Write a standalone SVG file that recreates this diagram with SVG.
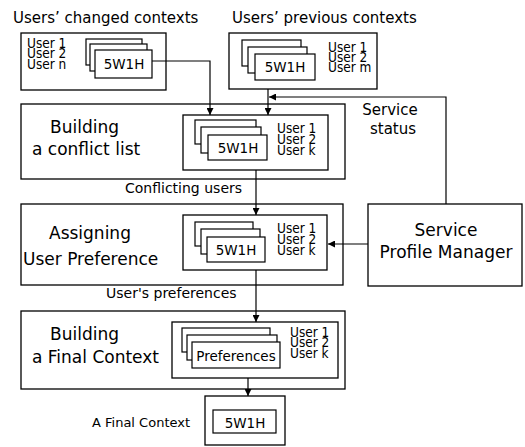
<svg xmlns="http://www.w3.org/2000/svg" width="525" height="447" viewBox="0 0 525 447">
<style>
text{font-family:"DejaVu Sans","Liberation Sans",sans-serif;fill:#000}
.box{fill:#fff;stroke:#000;stroke-width:1.3}
.card{fill:#fff;stroke:#000;stroke-width:1.2}
.big{font-size:17px}
.mid{font-size:15px}
.lab{font-size:14px}
.u{font-family:"DejaVu Sans Condensed","DejaVu Sans",sans-serif;font-stretch:condensed;font-size:13.5px}
.c{font-size:13.5px;text-anchor:middle}
.ln{fill:none;stroke:#000;stroke-width:1.2}
</style>
<defs>
<marker id="ah" viewBox="0 0 8 8" refX="8" refY="4" markerWidth="7" markerHeight="7" markerUnits="userSpaceOnUse" orient="auto">
<path d="M0,0 L8,4 L0,8 z" fill="#000"/>
</marker>
</defs>

<g id="changed-contexts">
<text class="mid" x="13" y="23">Users’ changed contexts</text>
<rect class="box" x="21" y="33" width="145" height="57"/>
<text class="u" x="27" y="48">User 1</text>
<text class="u" x="27" y="58">User 2</text>
<text class="u" x="27" y="69">User n</text>
<rect class="card" x="86" y="39" width="56" height="26"/>
<rect class="card" x="90" y="44" width="57" height="27"/>
<rect class="card" x="95" y="50" width="57" height="28"/>
<text class="c" x="124" y="69">5W1H</text>
</g>

<g id="previous-contexts">
<text class="mid" x="232" y="23">Users’ previous contexts</text>
<rect class="box" x="229" y="33" width="148" height="56"/>
<rect class="card" x="242" y="40" width="59" height="26"/>
<rect class="card" x="248" y="47" width="59" height="26"/>
<rect class="card" x="255" y="54" width="60" height="26"/>
<text class="c" x="285" y="72">5W1H</text>
<text class="u" x="328" y="52">User 1</text>
<text class="u" x="328" y="62">User 2</text>
<text class="u" x="328" y="72">User m</text>
</g>

<g id="conflict-list">
<rect class="box" x="21" y="104" width="324" height="75"/>
<text class="big" x="50" y="133">Building</text>
<text class="big" x="32" y="155">a conflict list</text>
<rect class="box" x="183" y="115" width="145" height="55"/>
<rect class="card" x="195" y="120" width="61" height="24"/>
<rect class="card" x="201" y="127" width="60" height="26"/>
<rect class="card" x="208" y="135" width="59" height="25"/>
<text class="c" x="238" y="153">5W1H</text>
<text class="u" x="277" y="133">User 1</text>
<text class="u" x="277" y="144">User 2</text>
<text class="u" x="277" y="155">User k</text>
</g>

<g id="assigning-preference">
<rect class="box" x="21" y="204" width="322" height="81"/>
<text class="big" x="49" y="239">Assigning</text>
<text class="big" x="23" y="265">User Preference</text>
<rect class="box" x="183" y="215" width="144" height="55"/>
<rect class="card" x="195" y="222" width="58" height="24"/>
<rect class="card" x="201" y="229" width="59" height="25"/>
<rect class="card" x="207" y="237" width="58" height="25"/>
<text class="c" x="236" y="255">5W1H</text>
<text class="u" x="277" y="233">User 1</text>
<text class="u" x="277" y="244">User 2</text>
<text class="u" x="277" y="255">User k</text>
</g>

<g id="final-context-builder">
<rect class="box" x="21" y="311" width="324" height="78"/>
<text class="big" x="50" y="340">Building</text>
<text class="big" x="32" y="363">a Final Context</text>
<rect class="box" x="172" y="322" width="166" height="56"/>
<rect class="card" x="182" y="328" width="88" height="24"/>
<rect class="card" x="187" y="335" width="90" height="25"/>
<rect class="card" x="192" y="342" width="88" height="26"/>
<text class="c" x="236" y="361">Preferences</text>
<text class="u" x="290" y="337">User 1</text>
<text class="u" x="290" y="347">User 2</text>
<text class="u" x="290" y="358">User k</text>
</g>

<g id="final-context">
<text class="lab" x="92" y="427" style="font-size:13px">A Final Context</text>
<rect class="box" x="205" y="396" width="80" height="49"/>
<rect class="card" x="213" y="410" width="63" height="23"/>
<text class="c" x="245" y="428">5W1H</text>
</g>

<g id="service-profile-manager">
<rect class="box" x="368" y="204" width="154" height="82"/>
<text class="big" x="446" y="236" text-anchor="middle">Service</text>
<text class="big" x="446" y="258" text-anchor="middle">Profile Manager</text>
</g>

<g id="connectors">
<path class="ln" d="M152,61 H210 V115" marker-end="url(#ah)"/>
<path class="ln" d="M268,89 V115" marker-end="url(#ah)"/>
<path class="ln" d="M446,204 V97 H269" marker-end="url(#ah)"/>
<path class="ln" d="M256,170 V215" marker-end="url(#ah)"/>
<path class="ln" d="M256,270 V322" marker-end="url(#ah)"/>
<path class="ln" d="M248,378 V396" marker-end="url(#ah)"/>
<path class="ln" d="M368,244 H328" marker-end="url(#ah)"/>
<text class="mid" x="390" y="115" text-anchor="middle">Service</text>
<text class="mid" x="393" y="134" text-anchor="middle">status</text>
<text class="lab" x="125" y="193">Conflicting users</text>
<text class="lab" x="106" y="298">User's preferences</text>
</g>
</svg>
